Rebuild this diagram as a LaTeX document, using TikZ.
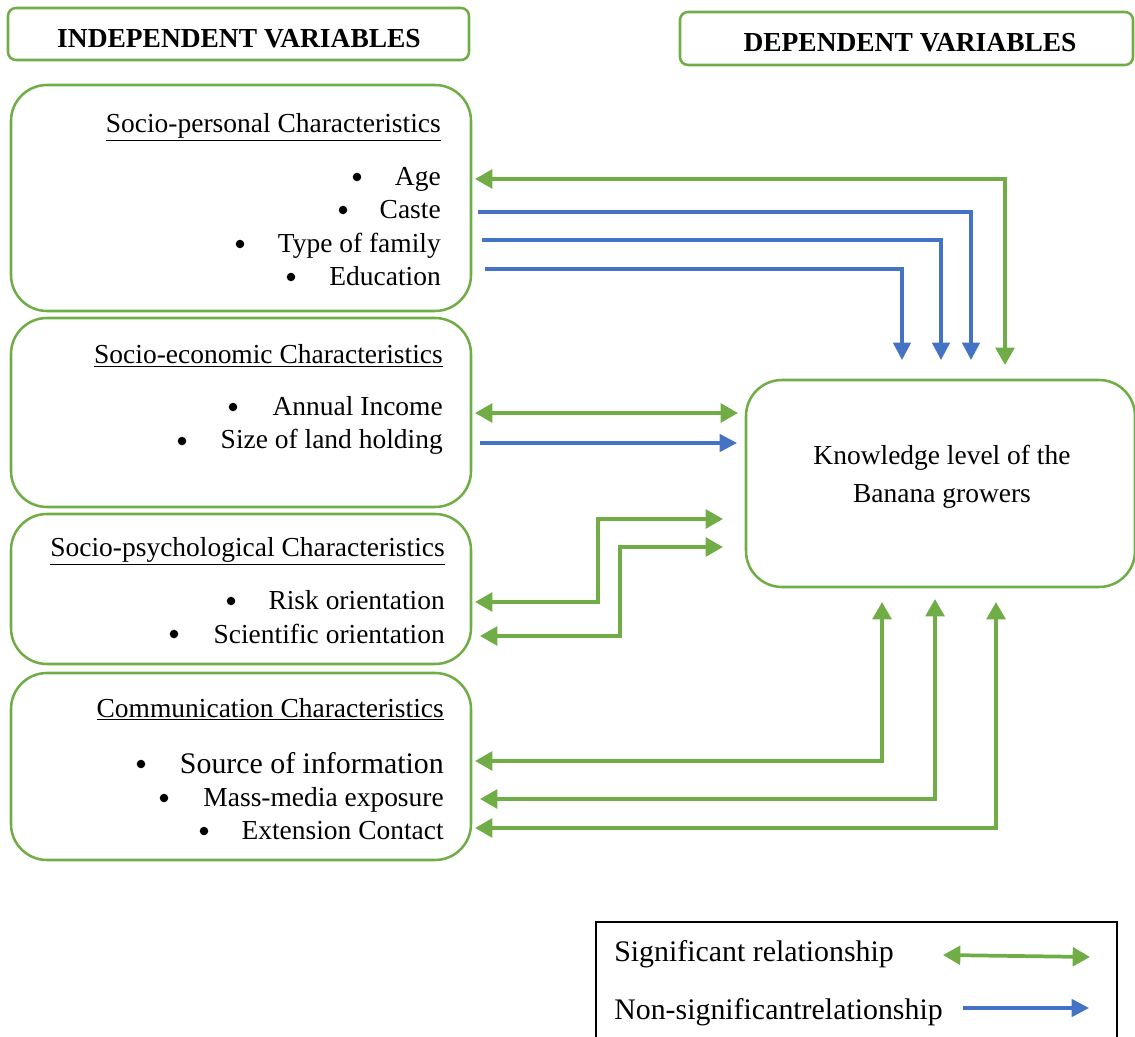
\documentclass[tikz,border=0pt]{standalone}
\usepackage{fontspec}
\setmainfont{Liberation Serif}
\usetikzlibrary{arrows.meta}
\definecolor{gr}{HTML}{70AD47}
\definecolor{bl}{HTML}{4472C4}
\begin{document}
\begin{tikzpicture}[x=0.75pt,y=-0.75pt,
  gbox/.style={draw=gr,line width=1.9pt,rounded corners=27pt,inner sep=0pt},
  tbox/.style={draw=gr,line width=1.9pt,rounded corners=6pt,inner sep=0pt},
  lbl/.style={anchor=base east,inner sep=0pt,font=\fontsize{20.6}{24}\selectfont},
  big/.style={anchor=base east,inner sep=0pt,font=\fontsize{22.4}{26}\selectfont},
  bul/.style={circle,fill=black,inner sep=0pt,minimum size=6.4pt},
  ttl/.style={anchor=base,inner sep=0pt,font=\fontsize{20.6}{24}\selectfont\bfseries},
  sig/.style={draw=gr,line width=2.8pt,{Triangle[length=13pt,width=14pt]}-{Triangle[length=13pt,width=14pt]}},
  nsig/.style={draw=bl,line width=2.6pt,-{Triangle[length=13pt,width=13pt]}},
]
\useasboundingbox (0,0) rectangle (1135,1037);

% title boxes
\node[tbox,minimum width=345.75pt,minimum height=39pt] (indep) at (238.5,34) {};
\node[ttl] (indepT) at (239,48) {INDEPENDENT VARIABLES};
\node[tbox,minimum width=339.75pt,minimum height=39.75pt] (dep) at (906.5,38.5) {};
\node[ttl] (depT) at (910,52) {DEPENDENT VARIABLES};

% group boxes
\node[gbox,minimum width=345pt,minimum height=169.5pt] (sp) at (241,198) {};
\node[gbox,minimum width=345pt,minimum height=141.75pt] (se) at (241,412.5) {};
\node[gbox,minimum width=345pt,minimum height=112.5pt] (ps) at (241,589) {};
\node[gbox,minimum width=345pt,minimum height=140.25pt] (cm) at (241,766.5) {};

% knowledge box
\node[gbox,minimum width=291.75pt,minimum height=155.25pt] (kb) at (940.5,483.5) {};
\node[anchor=base,inner sep=0pt,font=\fontsize{20.6}{24}\selectfont] (k1) at (942,464) {Knowledge level of the};
\node[anchor=base,inner sep=0pt,font=\fontsize{20.6}{24}\selectfont] (k2) at (942,502) {Banana growers};

% socio-personal
\node[lbl] (spH) at (441,133) {\underline{Socio-personal Characteristics}};
\node[lbl] (age) at (441,186) {Age};
\node[bul] (b1) at (357,177) {};
\node[lbl] (caste) at (441,219) {Caste};
\node[bul] (b2) at (343,210) {};
\node[lbl] (type) at (441,253) {Type of family};
\node[bul] (b3) at (240,244) {};
\node[lbl] (edu) at (441,286) {Education};
\node[bul] (b4) at (291,277) {};

% socio-economic
\node[lbl] (seH) at (443,364) {\underline{Socio-economic Characteristics}};
\node[lbl] (inc) at (443,416) {Annual Income};
\node[bul] (b5) at (233,407) {};
\node[lbl] (land) at (443,449) {Size of land holding};
\node[bul] (b6) at (182,441) {};

% socio-psychological
\node[lbl] (psH) at (445,556) {\underline{Socio-psychological Characteristics}};
\node[lbl] (risk) at (445,609) {Risk orientation};
\node[bul] (b7) at (231,601) {};
\node[lbl] (sci) at (445,643) {Scientific orientation};
\node[bul] (b8) at (174,634) {};

% communication
\node[lbl] (cmH) at (444,717) {\underline{Communication Characteristics}};
\node[big] (src) at (444,773) {Source of information};
\node[bul] (b9) at (141,764) {};
\node[lbl] (mass) at (444,806) {Mass-media exposure};
\node[bul] (b10) at (164,798) {};
\node[lbl] (ext) at (444,839) {Extension Contact};
\node[bul] (b11) at (204,831) {};

% connector end points
\coordinate (ageE) at (475,179);
\coordinate (ageK) at (1005,365);
\coordinate (casteE) at (478,212);
\coordinate (casteK) at (971,360);
\coordinate (typeE) at (482,240);
\coordinate (typeK) at (941,360);
\coordinate (eduE) at (485,269);
\coordinate (eduK) at (902,360);
\coordinate (incE) at (475,413);
\coordinate (incK) at (738,413);
\coordinate (landE) at (480,443);
\coordinate (landK) at (737,443);
\coordinate (riskE) at (475,602);
\coordinate (riskK) at (723,519);
\coordinate (sciE) at (480,636);
\coordinate (sciK) at (723,547);
\coordinate (srcE) at (475,761);
\coordinate (srcK) at (882,602);
\coordinate (massE) at (480,799);
\coordinate (massK) at (935,599);
\coordinate (extE) at (475,828);
\coordinate (extK) at (996,602);

% connectors
\draw[sig] (ageK) |- (ageE);
\draw[nsig] (casteE) -| (casteK);
\draw[nsig] (typeE) -| (typeK);
\draw[nsig] (eduE) -| (eduK);
\draw[sig] (incE) -- (incK);
\draw[nsig] (landE) -- (landK);
\draw[sig] (riskE) -- ++(123,0) |- (riskK);
\draw[sig] (sciE) -- ++(140,0) |- (sciK);
\draw[sig] (srcE) -| (srcK);
\draw[sig] (massE) -| (massK);
\draw[sig] (extE) -| (extK);

% legend
\draw[black,line width=1.1pt] (596,1045) |- (1117,922) -- (1117,1045);
\node[anchor=base west,inner sep=0pt,font=\fontsize{22.4}{26}\selectfont] (lg1) at (614,961) {Significant relationship};
\node[anchor=base west,inner sep=0pt,font=\fontsize{22.4}{26}\selectfont] (lg2) at (614,1019) {Non-significantrelationship};
\coordinate (lgA1) at (943,955);
\coordinate (lgA2) at (1090,957);
\coordinate (lgB1) at (963,1008);
\coordinate (lgB2) at (1089,1008);
\draw[sig] (lgA1) -- (lgA2);
\draw[nsig] (lgB1) -- (lgB2);
\end{tikzpicture}
\end{document}
